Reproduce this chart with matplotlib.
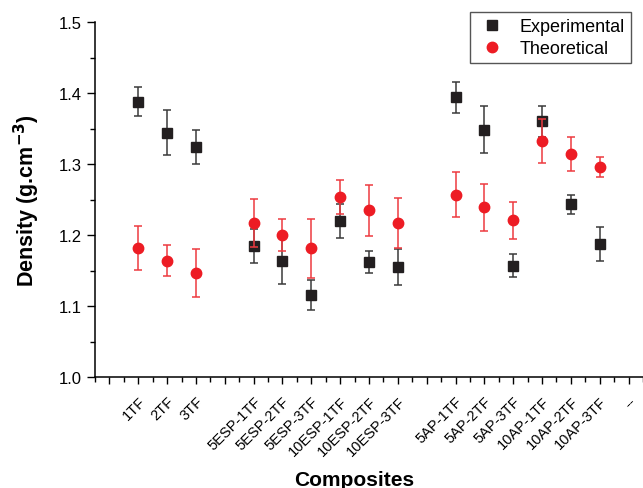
import matplotlib
matplotlib.use('Agg')
import matplotlib.pyplot as plt
import numpy as np
from matplotlib.ticker import MultipleLocator
from matplotlib.lines import Line2D
from matplotlib.transforms import ScaledTranslation

plt.rcParams['font.family'] = ['Liberation Sans', 'DejaVu Sans']
plt.rcParams['mathtext.fontset'] = 'dejavusans'

# categories (empty slots act as group separators)
labels = ['', '1TF', '2TF', '3TF', '',
          '5ESP-1TF', '5ESP-2TF', '5ESP-3TF', '10ESP-1TF', '10ESP-2TF', '10ESP-3TF', '',
          '5AP-1TF', '5AP-2TF', '5AP-3TF', '10AP-1TF', '10AP-2TF', '10AP-3TF', '--']
samples = ['1TF', '2TF', '3TF',
           '5ESP-1TF', '5ESP-2TF', '5ESP-3TF', '10ESP-1TF', '10ESP-2TF', '10ESP-3TF',
           '5AP-1TF', '5AP-2TF', '5AP-3TF', '10AP-1TF', '10AP-2TF', '10AP-3TF']

exp_val = [1.388, 1.344, 1.324,
           1.185, 1.164, 1.116, 1.220, 1.162, 1.155,
           1.394, 1.348, 1.157, 1.360, 1.243, 1.187]
exp_err = [0.021, 0.032, 0.024,
           0.024, 0.033, 0.021, 0.024, 0.016, 0.025,
           0.022, 0.033, 0.016, 0.022, 0.014, 0.024]
theo_val = [1.182, 1.164, 1.146,
            1.217, 1.200, 1.181, 1.253, 1.235, 1.217,
            1.257, 1.239, 1.221, 1.332, 1.314, 1.296]
theo_err = [0.031, 0.022, 0.034,
            0.034, 0.023, 0.041, 0.024, 0.036, 0.035,
            0.032, 0.033, 0.026, 0.031, 0.024, 0.014]

xpos = [labels.index(s) for s in samples]

fig = plt.figure(figsize=(6.43, 4.89), dpi=100)
ax = fig.add_axes([95/643, 1-378/489, 548/643, 355/489])

ax.errorbar(xpos, exp_val, yerr=exp_err, fmt='s', color='#231f20', ms=6.5,
            ecolor='#3a3a3a', elinewidth=1.1, capsize=3.2, capthick=1.1, zorder=3)
ax.errorbar(xpos, theo_val, yerr=theo_err, fmt='o', color='#ed1c24', ms=7.5,
            ecolor='#ee3a40', elinewidth=1.1, capsize=3.2, capthick=1.1, zorder=4)

ax.set_xlim(-0.5, 18.5)
ax.set_ylim(1.0, 1.5)
ax.set_xticks(range(len(labels)))
ax.set_xticklabels(labels, rotation=45, ha='right', va='top', rotation_mode='anchor', fontsize=10.5)
shift = ScaledTranslation(2/100, 0, fig.dpi_scale_trans)
for lbl in ax.get_xticklabels():
    lbl.set_transform(lbl.get_transform() + shift)
ax.xaxis.set_minor_locator(MultipleLocator(0.5))
ax.yaxis.set_major_locator(MultipleLocator(0.1))
ax.yaxis.set_minor_locator(MultipleLocator(0.05))
ax.tick_params(axis='y', which='major', length=5.5, width=1, labelsize=12, pad=4)
ax.tick_params(axis='x', which='major', length=5.2, width=1, pad=7)
ax.tick_params(which='minor', length=3.3, width=1)
for s in ['top', 'right']:
    ax.spines[s].set_visible(False)
for s in ['left', 'bottom']:
    ax.spines[s].set_linewidth(1.1)

ax.set_ylabel(r'Density (g.cm$^{\mathbf{-3}}$)', fontsize=15.5, fontweight='bold')
ax.yaxis.set_label_coords(-0.097, 0.5)
ax.set_xlabel('Composites', fontsize=15, fontweight='bold')
ax.xaxis.set_label_coords(0.4726, -0.262)

handles = [Line2D([], [], ls='none', marker='s', ms=6.5, color='#231f20'),
           Line2D([], [], ls='none', marker='o', ms=7.5, color='#ed1c24')]
leg = ax.legend(handles, ['Experimental', 'Theoretical'],
                loc='upper right', bbox_to_anchor=(631/643, 1-13/489),
                bbox_transform=fig.transFigure, borderaxespad=0, fontsize=13,
                fancybox=False, framealpha=1, edgecolor='#555555',
                handlelength=1.74, handletextpad=0.63, borderpad=0.35,
                labelspacing=0.25)
leg.get_frame().set_linewidth(1.0)

plt.savefig('out.png', dpi=100)
